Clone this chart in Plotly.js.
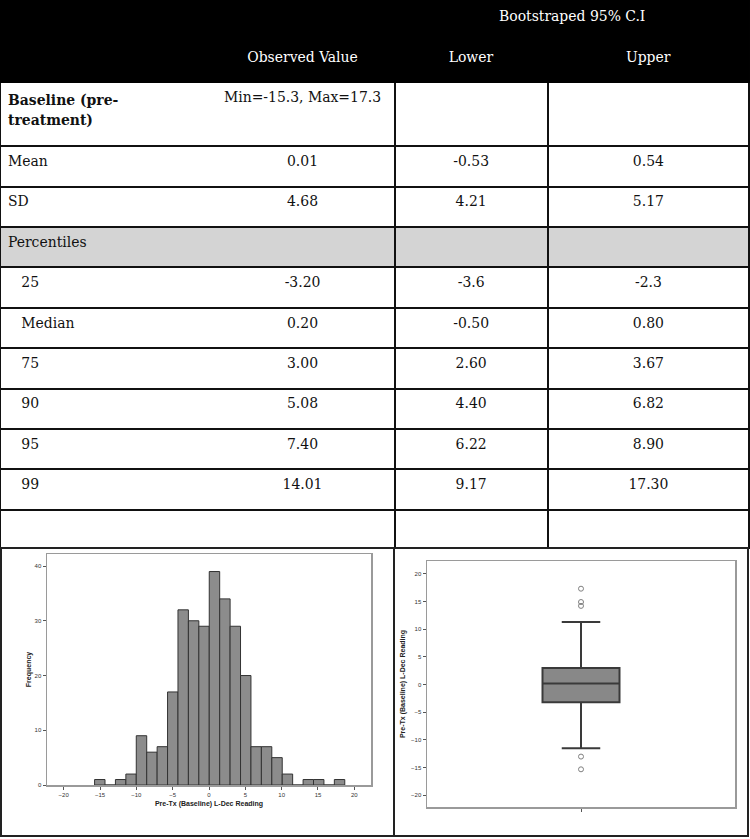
<!DOCTYPE html>
<html>
<head>
<meta charset="utf-8">
<script src="https://cdn.plot.ly/plotly-3.0.1.min.js"></script>
<style>html,body{margin:0;padding:0;background:#fff;}#chart{width:750px;height:839px;}</style>
</head>
<body>
<div id="chart"></div>
<script>
// ---------- Table data ----------
const NB = "\u00a0";
const rowLabels = ["<b>Baseline (pre-<br>treatment)</b>", "Mean", "SD", "Percentiles",
  NB + NB + NB + "25", NB + NB + NB + "Median", NB + NB + NB + "75", NB + NB + NB + "90",
  NB + NB + NB + "95", NB + NB + NB + "99", ""];
const observedValues = ["Min=-15.3, Max=17.3", "0.01", "4.68", "", "-3.20", "0.20", "3.00", "5.08", "7.40", "14.01", ""];
const lowerCI = ["", "-0.53", "4.21", "", "-3.6", "-0.50", "2.60", "4.40", "6.22", "9.17", ""];
const upperCI = ["", "0.54", "5.17", "", "-2.3", "0.80", "3.67", "6.82", "8.90", "17.30", ""];
const headerTitle = "Bootstraped 95% C.I";
const headerCols = ["Observed Value", "Lower", "Upper"];
const shadedRow = "Percentiles";

// ---------- Histogram data ----------
const binStart = -15.75;
const binWidth = 1.435;
const binCounts = [1, 0, 1, 2, 9, 6, 7, 17, 32, 30, 29, 39, 34, 29, 20, 7, 7, 5, 2, 0, 1, 1, 0, 1];
const histXTicks = [-20, -15, -10, -5, 0, 5, 10, 15, 20];
const histYTicks = [0, 10, 20, 30, 40];
const axisTitle = "Pre-Tx (Baseline) L-Dec Reading";

// ---------- Box plot data ----------
const boxQ1 = -3.2, boxMedian = 0.2, boxQ3 = 3.0, boxLowerFence = -11.5, boxUpperFence = 11.3;
const boxOutliers = [17.3, 14.9, 14.2, -13.0, -15.3];
const boxYTicks = [-20, -15, -10, -5, 0, 5, 10, 15, 20];

// ---------- geometry / style helpers ----------
const W = 750, H = 839;
const px = v => v / W;
const py = v => 1 - v / H;

const FS = 15.5;          // table text size
const SPACER_FS = 12.8;   // invisible spacer that makes the first body row taller
const FAMILY = "DejaVu Serif Condensed, DejaVu Serif, serif";
const spacer = NB + "<br>" + NB + "<br>" + NB;
const nRows = rowLabels.length;
const rowFill = rowLabels.map(r => r === shadedRow ? "#d4d4d4" : "#ffffff");
const sizesNormal = rowLabels.map(() => FS);
const sizesSpacer = rowLabels.map((_, i) => i === 0 ? SPACER_FS : FS);
const hdr = t => NB + "<br>" + NB + "<br>" + t;

const lowerCol = lowerCI.map((v, i) => i === 0 ? spacer : v);

const mainTable = {
  type: "table",
  domain: {x: [0, px(749)], y: [py(549), 1]},
  columnwidth: [394, 153, 201],
  header: {
    values: ["", hdr(headerCols[1]), hdr(headerCols[2])],
    height: 82,
    fill: {color: "#000"},
    line: {color: "#000", width: 2},
    align: ["left", "center", "center"],
    font: {family: FAMILY, size: FS, color: "#fff"}
  },
  cells: {
    values: [rowLabels, lowerCol, upperCI],
    height: 40.4,
    fill: {color: [rowFill, rowFill, rowFill]},
    line: {color: "#111", width: 2},
    align: ["left", "center", "center"],
    font: {family: FAMILY, size: [sizesNormal, sizesSpacer, sizesNormal], color: "#111"}
  }
};

const obsTable = {
  type: "table",
  domain: {x: [px(212), px(395)], y: [py(549), 1]},
  columnwidth: [182, 1],
  header: {
    values: [hdr(headerCols[0]), ""],
    height: 82,
    fill: {color: "rgba(0,0,0,0)"},
    line: {color: "rgba(0,0,0,0)", width: 2},
    align: "center",
    font: {family: FAMILY, size: FS, color: "#fff"}
  },
  cells: {
    values: [observedValues, rowLabels.map((_, i) => i === 0 ? spacer : "")],
    height: 40.4,
    fill: {color: "rgba(0,0,0,0)"},
    line: {color: "rgba(0,0,0,0)", width: 2},
    align: "center",
    font: {family: FAMILY, size: [sizesNormal, sizesSpacer], color: "#111"}
  }
};

const binCenters = binCounts.map((_, i) => binStart + (i + 0.5) * binWidth);
const hist = {
  type: "bar",
  x: binCenters,
  y: binCounts,
  width: binWidth,
  marker: {color: "#8c8c8c", line: {color: "#333", width: 1}},
  xaxis: "x", yaxis: "y",
  hoverinfo: "x+y"
};

const box = {
  type: "box",
  x: [0],
  q1: [boxQ1], median: [boxMedian], q3: [boxQ3],
  lowerfence: [boxLowerFence], upperfence: [boxUpperFence],
  width: 0.25,
  whiskerwidth: 0.5,
  fillcolor: "#888888",
  line: {color: "#3a3a3a", width: 2},
  boxpoints: false,
  xaxis: "x2", yaxis: "y2"
};
const outliers = {
  type: "scatter",
  mode: "markers",
  x: boxOutliers.map(() => 0),
  y: boxOutliers,
  marker: {symbol: "circle-open", size: 5, color: "#808080", line: {width: 1}},
  xaxis: "x2", yaxis: "y2"
};

const tickFont = {family: "Liberation Sans, Arial, sans-serif", size: 6, color: "#333"};
const titleFont = {family: "Liberation Sans, Arial, sans-serif", size: 7, color: "#222"};
const commonAxis = {
  showline: true, linecolor: "#9a9a9a", linewidth: 1.5, mirror: true,
  showgrid: false, zeroline: false, ticks: "outside", ticklen: 3, tickcolor: "#555",
  tickfont: tickFont
};

const layout = {
  width: W, height: H,
  margin: {l: 0, r: 0, t: 0, b: 0},
  paper_bgcolor: "#fff", plot_bgcolor: "#fff",
  showlegend: false,
  xaxis: Object.assign({}, commonAxis, {
    domain: [px(47), px(371)], anchor: "y",
    range: [-22.3, 22.3], tickvals: histXTicks,
    title: {text: "<b>" + axisTitle + "</b>", font: titleFont, standoff: 4}
  }),
  yaxis: Object.assign({}, commonAxis, {
    domain: [py(785), py(554)], anchor: "x",
    range: [0, 42.2], tickvals: histYTicks,
    title: {text: "<b>Frequency</b>", font: titleFont, standoff: 2}
  }),
  xaxis2: Object.assign({}, commonAxis, {
    domain: [px(427), px(735)], anchor: "y2",
    range: [-0.5, 0.5], tickvals: [0], ticktext: [""]
  }),
  yaxis2: Object.assign({}, commonAxis, {
    domain: [py(807), py(561)], anchor: "x2",
    range: [-22.1, 22.3], tickvals: boxYTicks,
    title: {text: "<b>" + axisTitle + "</b>", font: titleFont, standoff: 4}
  }),
  annotations: [{
    text: headerTitle, xref: "paper", yref: "paper",
    x: px(572), y: py(16), xanchor: "center", yanchor: "middle", showarrow: false,
    font: {family: FAMILY, size: FS, color: "#fff"}
  }],
  shapes: [
    {type: "rect", xref: "paper", yref: "paper", x0: px(1), x1: px(748), y0: py(836), y1: py(548),
     line: {color: "#222", width: 2}},
    {type: "line", xref: "paper", yref: "paper", x0: px(394), x1: px(394), y0: py(836), y1: py(548),
     line: {color: "#222", width: 2}}
  ]
};

Plotly.newPlot("chart", [mainTable, obsTable, hist, box, outliers], layout, {staticPlot: true, displayModeBar: false});
</script>
</body>
</html>
